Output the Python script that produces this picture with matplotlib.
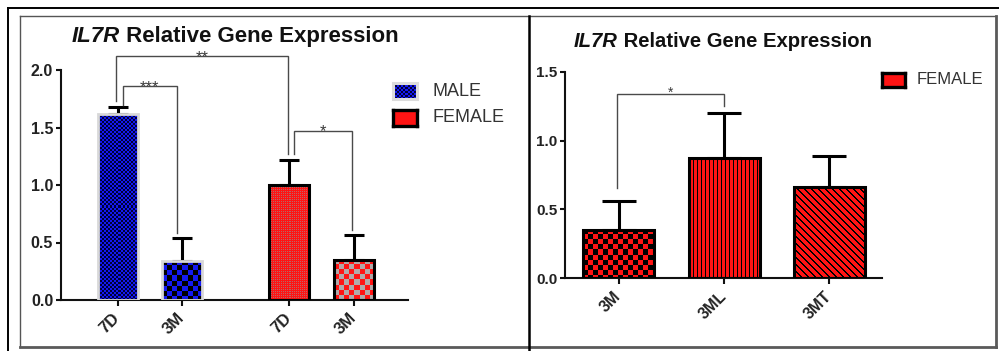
import numpy as np
import matplotlib
matplotlib.use("Agg")
import matplotlib.pyplot as plt
from matplotlib.lines import Line2D

plt.rcParams["font.family"] = ["Liberation Sans", "DejaVu Sans"]

# ---- data ----
left_categories = ["7D", "3M", "7D", "3M"]
left_groups = ["MALE", "MALE", "FEMALE", "FEMALE"]
left_means = [1.62, 0.34, 1.00, 0.35]
left_sem = [0.06, 0.20, 0.215, 0.215]
left_yticks = [0.0, 0.5, 1.0, 1.5, 2.0]

right_categories = ["3M", "3ML", "3MT"]
right_means = [0.35, 0.87, 0.665]
right_sem = [0.21, 0.33, 0.22]
right_yticks = [0.0, 0.5, 1.0, 1.5]

# significance brackets: (bar a, bar b, bracket level, foot of leg a, foot of leg b, label)
left_brackets = [(0, 2, 2.12, 1.73, 1.27, "**"),
                 (0, 1, 1.86, 1.70, 0.585, "***"),
                 (2, 3, 1.47, 1.27, 0.61, "*")]
right_brackets = [(0, 1, 1.336, 0.653, 1.25, "*")]

# ---- figure geometry (pixels) ----
W, H = 999, 351
fig = plt.figure(figsize=(W / 100, H / 100), dpi=100)
fig.patch.set_facecolor("white")


def fig_rect(x0, y0, x1, y1):
    return [x0 / W, 1 - y1 / H, (x1 - x0) / W, (y1 - y0) / H]


def fig_pt(x, y):
    return x / W, 1 - y / H


RED = np.array([1.0, 0.08, 0.08])
BLUE = np.array([0.08, 0.10, 0.95])
NAVY = np.array([0.0, 0.0, 0.22])
BLACK = np.array([0.0, 0.0, 0.0])
GREY = np.array([0.70, 0.66, 0.66])


def texture(kind, w, h):
    jj, ii = np.meshgrid(np.arange(w), np.arange(h))

    def checker(cell):
        return ((ii // cell + jj // cell) % 2).astype(bool)

    if kind == "blue_fine":
        m, a, b = checker(2), BLUE, NAVY
    elif kind == "blue_coarse":
        m, a, b = checker(5), BLUE, BLACK
    elif kind == "red_fine":
        m = ~((ii % 2 == 0) & (jj % 2 == 0))
        a, b = RED, np.array([0.72, 0.40, 0.40])
    elif kind == "red_grey":
        m, a, b = checker(5), RED, GREY
    elif kind == "red_black":
        m, a, b = checker(5), RED, BLACK
    elif kind == "red_vstripe":
        m, a, b = (jj % 4) != 0, RED, BLACK
    elif kind == "red_diag":
        m, a, b = ((jj - ii) % 7) >= 2, RED, BLACK
    else:
        m, a, b = np.ones((h, w), bool), RED, RED
    return np.where(m[..., None], a, b)


def textured_bars(ax, x, means, width, kinds, edgecolors, lws):
    bars = ax.bar(x, means, width, color="white", edgecolor="none", zorder=2)
    for bar, kind in zip(bars, kinds):
        bb = bar.get_window_extent()
        w = max(int(round(bb.width)), 1)
        h = max(int(round(bb.height)), 1)
        im = ax.imshow(texture(kind, w, h),
                       extent=(bar.get_x(), bar.get_x() + bar.get_width(),
                               bar.get_y(), bar.get_y() + bar.get_height()),
                       aspect="auto", interpolation="nearest", zorder=2.1)
        im.set_clip_path(bar)
    ax.bar(x, means, width, fill=False, edgecolor=edgecolors,
           linewidth=lws, zorder=3)
    return bars


def style_axes(ax, yticks, fs, xpad):
    for s in ("top", "right"):
        ax.spines[s].set_visible(False)
    for s in ("left", "bottom"):
        ax.spines[s].set_linewidth(1.5)
        ax.spines[s].set_color("#111111")
    ax.set_yticks(yticks)
    ax.set_yticklabels([f"{v:.1f}" for v in yticks], fontsize=fs,
                       fontweight="bold", color="#222222")
    ax.tick_params(axis="y", length=3.4, width=1.5, pad=2.2, color="#111111")
    ax.tick_params(axis="x", length=4.3, width=1.5, pad=xpad, color="#111111")
    ax.set_facecolor("none")


def draw_brackets(ax, x, brackets, offsets, star_fs, star_dy):
    for (a, b, level, fa, fb, label), (da, db) in zip(brackets, offsets):
        xa, xb = x[a] + da, x[b] + db
        ax.plot([xa, xa, xb, xb], [fa, level, level, fb], color="#4a4a4a",
                lw=1.0, clip_on=False, zorder=4, solid_joinstyle="miter")
        ax.annotate(label, xy=((xa + xb) / 2, level), xytext=(0, star_dy),
                    textcoords="offset points", ha="center", va="baseline",
                    fontsize=star_fs, color="#3a3a3a", annotation_clip=False)


# ---- left panel ----
axL = fig.add_axes(fig_rect(61, 70, 408, 300))
left_x = np.array([0.0, 1.0, 2.66, 3.66])
L_XLIM, L_YLIM = (-0.876, 4.50), (0, 2.0)
axL.set_xlim(*L_XLIM)
axL.set_ylim(*L_YLIM)
textured_bars(axL, left_x, left_means, 0.62,
              ["blue_fine", "blue_coarse", "red_fine", "red_grey"],
              ["#d8d8d8", "#d8d8d8", "black", "black"], [2.0, 2.0, 2.2, 2.2])
axL.errorbar(left_x, left_means, yerr=[np.zeros(len(left_means)), left_sem],
             fmt="none", ecolor="black", elinewidth=2.2, capsize=7.5,
             capthick=2.2, zorder=1.5)
axL.set_xlim(*L_XLIM)
axL.set_ylim(*L_YLIM)
style_axes(axL, left_yticks, 11.5, 7.0)
axL.set_xticks(left_x)
axL.set_xticklabels(left_categories, rotation=45, ha="right", va="center",
                    rotation_mode="anchor", fontsize=12, fontweight="bold",
                    color="#222222")
draw_brackets(axL, left_x, left_brackets,
              [(-0.03, -0.02), (0.08, -0.08), (0.08, -0.02)], 12, -4)

# ---- right panel ----
axR = fig.add_axes(fig_rect(565, 71.7, 882, 278.3))
right_x = np.arange(len(right_categories), dtype=float)
R_XLIM, R_YLIM = (-0.51, 2.5), (0, 1.5)
axR.set_xlim(*R_XLIM)
axR.set_ylim(*R_YLIM)
textured_bars(axR, right_x, right_means, 0.674,
              ["red_black", "red_vstripe", "red_diag"],
              ["black"] * 3, [2.2] * 3)
axR.errorbar(right_x, right_means, yerr=[np.zeros(len(right_means)), right_sem],
             fmt="none", ecolor="black", elinewidth=2.2, capsize=12,
             capthick=2.2, zorder=1.5)
axR.set_xlim(*R_XLIM)
axR.set_ylim(*R_YLIM)
style_axes(axR, right_yticks, 11, 7.0)
axR.set_xticks(right_x)
axR.set_xticklabels(right_categories, rotation=45, ha="right", va="center",
                    rotation_mode="anchor", fontsize=11.5, fontweight="bold",
                    color="#222222")
draw_brackets(axR, right_x, right_brackets, [(-0.02, 0.0)], 10, -2)


# ---- titles ----
def title(x, y, fs):
    t1 = fig.text(*fig_pt(x, y), "IL7R", fontsize=fs, fontweight="bold",
                  fontstyle="italic", va="baseline", ha="left", color="#111111")
    axL.annotate(" Relative Gene Expression", xy=(1, 0), xycoords=t1,
                 ha="left", va="bottom", fontsize=fs, fontweight="bold",
                 color="#111111", annotation_clip=False)


title(72, 41.7, 16)
title(574, 46.7, 14.6)


# ---- legends ----
def swatch(x0, y0, x1, y1, kind, edge, lw):
    sax = fig.add_axes(fig_rect(x0, y0, x1, y1))
    w, h = int(round(x1 - x0)), int(round(y1 - y0))
    sax.imshow(texture(kind, w, h), aspect="auto", interpolation="nearest")
    sax.set_xticks([])
    sax.set_yticks([])
    for s in sax.spines.values():
        s.set_color(edge)
        s.set_linewidth(lw)


swatch(393, 83, 417, 99, "blue_fine", "#dcdcdc", 2.2)
fig.text(*fig_pt(432, 91), "MALE", fontsize=13, va="center", ha="left",
         color="#333333")
swatch(393, 110, 417, 126, "solid_red", "black", 2.4)
fig.text(*fig_pt(432, 118), "FEMALE", fontsize=13, va="center", ha="left",
         color="#333333")
swatch(882, 73, 905, 87, "solid_red", "black", 2.4)
fig.text(*fig_pt(917, 80), "FEMALE", fontsize=12, va="center", ha="left",
         color="#333333")


# ---- panel frames ----
def fline(x0, y0, x1, y1, color, lw):
    fig.add_artist(Line2D([x0 / W, x1 / W], [1 - y0 / H, 1 - y1 / H],
                          transform=fig.transFigure, color=color, lw=lw))


fline(8, 8, 999, 8, "black", 1.4)
fline(8, 8, 8, 351, "black", 1.4)
fline(20, 16, 996, 16, "#555555", 1.0)
fline(20, 16, 20, 347, "#555555", 1.0)
fline(996, 16, 996, 347, "#5a5a5a", 2.0)
fline(20, 347, 996, 347, "#5a5a5a", 2.0)
fline(528.7, 16, 528.7, 351, "black", 1.8)

fig.savefig("out.png", dpi=100, facecolor="white")
